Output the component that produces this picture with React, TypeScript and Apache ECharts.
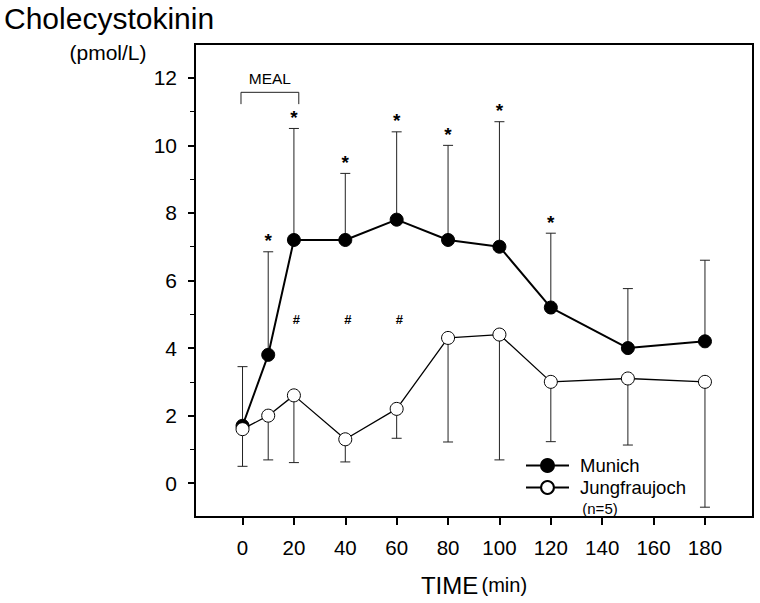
import React, { useEffect, useRef } from 'react';
import * as echarts from 'echarts';

const times = [0, 10, 20, 40, 60, 80, 100, 120, 150, 180];
const munichMean = [1.7, 3.8, 7.2, 7.2, 7.8, 7.2, 7.0, 5.2, 4.0, 4.2];
const munichUpper = [3.45, 6.85, 10.5, 9.17, 10.4, 10.0, 10.7, 7.4, 5.76, 6.6];
const jungMean = [1.6, 2.0, 2.6, 1.3, 2.2, 4.3, 4.4, 3.0, 3.1, 3.0];
const jungLower = [0.5, 0.69, 0.61, 0.63, 1.33, 1.22, 0.69, 1.23, 1.13, -0.71];
const starTimes = [10, 20, 40, 60, 80, 100, 120];
const hashTimes = [21, 41, 61];
const hashLevel = 4.85;
const xTickValues = [0, 20, 40, 60, 80, 100, 120, 140, 160, 180];
const yTickValues = [0, 2, 4, 6, 8, 10, 12];
const yMinorValues = [1, 3, 5, 7, 9, 11];
const mealRange = [-0.6, 21.9];
const mealBracket = [11.57, 11.22];
const mealLabelLevel = 11.98;

const FONT = '"Liberation Sans", Arial, Helvetica, sans-serif';

export default function App() {
  const ref = useRef<HTMLDivElement>(null);
  useEffect(() => {
    if (!ref.current) return;
    const chart = echarts.init(ref.current, undefined, { renderer: 'svg' });

    const munichData = times.map((t, i) => [t, munichMean[i]]);
    const jungData = times.map((t, i) => [t, jungMean[i]]);
    const munichErr = times.map((t, i) => [t, munichMean[i], munichUpper[i]]);
    const jungErr = times.map((t, i) => [t, jungMean[i], jungLower[i]]);
    const stars = starTimes.map((t) => [t, munichUpper[times.indexOf(t)]]);
    const hashes = hashTimes.map((t) => [t, hashLevel]);

    const errRender = (params: any, api: any) => {
      const x = api.value(0);
      const p0 = api.coord([x, api.value(1)]);
      const p1 = api.coord([x, api.value(2)]);
      const cap = 5;
      const style = { stroke: '#222', lineWidth: 1 };
      return {
        type: 'group',
        children: [
          { type: 'line', shape: { x1: p0[0], y1: p0[1], x2: p1[0], y2: p1[1] }, style },
          { type: 'line', shape: { x1: p1[0] - cap, y1: p1[1], x2: p1[0] + cap, y2: p1[1] }, style },
        ],
      };
    };

    chart.setOption({
      animation: false,
      backgroundColor: '#fff',
      textStyle: { fontFamily: FONT },
      grid: {
        left: 195,
        right: 7,
        top: 44,
        bottom: 86,
        show: true,
        borderColor: '#000',
        borderWidth: 2,
      },
      graphic: [
        {
          type: 'text',
          x: 4,
          y: 18,
          style: { text: 'Cholecystokinin', fontSize: 30, fontFamily: FONT, fill: '#000', align: 'left', verticalAlign: 'middle' },
        },
        {
          type: 'text',
          x: 108,
          y: 52,
          style: { text: '(pmol/L)', fontSize: 21, fontFamily: FONT, fill: '#000', align: 'center', verticalAlign: 'middle' },
        },
        {
          type: 'text',
          x: 600,
          y: 508,
          style: { text: '(n=5)', fontSize: 15, fontFamily: FONT, fill: '#000', align: 'center', verticalAlign: 'middle' },
        },
      ],
      legend: {
        orient: 'vertical',
        left: 520,
        top: 451,
        itemWidth: 43,
        itemHeight: 16,
        itemGap: 3,
        data: ['Munich', 'Jungfraujoch'],
        textStyle: { fontSize: 18.5, fontFamily: FONT, color: '#000', padding: [0, 0, 0, 6] },
      },
      xAxis: {
        type: 'value',
        min: -18.5,
        max: 198.7,
        axisLine: { show: true, onZero: false, lineStyle: { color: '#000', width: 2 } },
        axisTick: { show: true, length: 8, lineStyle: { color: '#000', width: 2 }, customValues: xTickValues },
        axisLabel: { customValues: xTickValues, fontSize: 20.5, color: '#000', margin: 20, fontFamily: FONT },
        splitLine: { show: false },
        name: '{a|TIME} {b|(min)}',
        nameLocation: 'middle',
        nameGap: 56,
        nameTextStyle: {
          rich: {
            a: { fontSize: 24, fontFamily: FONT, color: '#000' },
            b: { fontSize: 20, fontFamily: FONT, color: '#000' },
          },
        },
      },
      yAxis: [
        {
          type: 'value',
          min: -1,
          max: 13,
          axisLine: { show: true, onZero: false, lineStyle: { color: '#000', width: 2 } },
          axisTick: { show: true, length: 7, lineStyle: { color: '#000', width: 2 }, customValues: yTickValues },
          axisLabel: { customValues: yTickValues, fontSize: 21, color: '#000', margin: 18, fontFamily: FONT },
          splitLine: { show: false },
        },
        {
          type: 'value',
          min: -1,
          max: 13,
          position: 'left',
          offset: 0,
          axisLine: { show: false, onZero: false },
          axisTick: { show: true, length: 5, lineStyle: { color: '#000', width: 1 }, customValues: yMinorValues },
          axisLabel: { show: false },
          splitLine: { show: false },
        },
      ],
      series: [
        {
          name: 'munichErr',
          type: 'custom',
          renderItem: errRender,
          data: munichErr,
          encode: { x: 0, y: [1, 2] },
          z: 1,
          silent: true,
        },
        {
          name: 'jungErr',
          type: 'custom',
          renderItem: errRender,
          data: jungErr,
          encode: { x: 0, y: [1, 2] },
          z: 1,
          silent: true,
        },
        {
          name: 'Munich',
          type: 'line',
          data: munichData,
          symbol: 'circle',
          symbolSize: 13,
          lineStyle: { color: '#000', width: 2 },
          itemStyle: { color: '#000', borderColor: '#000', borderWidth: 1 },
          z: 3,
        },
        {
          name: 'Jungfraujoch',
          type: 'line',
          data: jungData,
          symbol: 'circle',
          symbolSize: 13,
          lineStyle: { color: '#000', width: 1.3 },
          itemStyle: { color: '#fff', borderColor: '#000', borderWidth: 1 },
          z: 4,
        },
        {
          name: 'stars',
          type: 'custom',
          data: stars,
          z: 5,
          silent: true,
          renderItem: (params: any, api: any) => {
            const p = api.coord([api.value(0), api.value(1)]);
            return {
              type: 'text',
              x: p[0],
              y: p[1] - 11,
              style: { text: '*', fontSize: 19, fontWeight: 'bold', fontFamily: FONT, fill: '#000', align: 'center', verticalAlign: 'middle' },
            };
          },
        },
        {
          name: 'hashes',
          type: 'custom',
          data: hashes,
          z: 5,
          silent: true,
          renderItem: (params: any, api: any) => {
            const p = api.coord([api.value(0), api.value(1)]);
            return {
              type: 'text',
              x: p[0],
              y: p[1],
              style: { text: '#', fontSize: 13, fontWeight: 'bold', fontFamily: FONT, fill: '#000', align: 'center', verticalAlign: 'middle' },
            };
          },
        },
        {
          name: 'meal',
          type: 'custom',
          data: [[mealRange[0], mealRange[1], mealBracket[0], mealBracket[1], mealLabelLevel]],
          z: 5,
          silent: true,
          renderItem: (params: any, api: any) => {
            const a = api.coord([api.value(0), api.value(2)]);
            const b = api.coord([api.value(1), api.value(3)]);
            const c = api.coord([(api.value(0) + api.value(1)) / 2, api.value(4)]);
            return {
              type: 'group',
              children: [
                {
                  type: 'polyline',
                  shape: { points: [[a[0], b[1]], [a[0], a[1]], [b[0], a[1]], [b[0], b[1]]] },
                  style: { stroke: '#222', lineWidth: 1, fill: 'none' },
                },
                {
                  type: 'text',
                  x: c[0],
                  y: c[1],
                  style: { text: 'MEAL', fontSize: 15.5, fontFamily: FONT, fill: '#000', align: 'center', verticalAlign: 'middle' },
                },
              ],
            };
          },
        },
      ],
    });
    return () => chart.dispose();
  }, []);
  return (
    <div
      ref={ref}
      style={{ position: 'absolute', left: 0, top: 0, width: 760, height: 603, background: '#fff' }}
    />
  );
}
